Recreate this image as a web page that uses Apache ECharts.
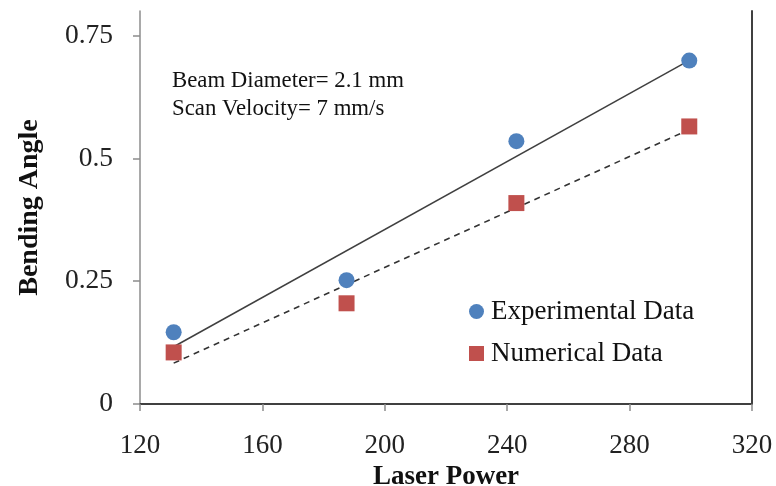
<!DOCTYPE html>
<html>
<head>
<meta charset="utf-8">
<script src="https://cdn.jsdelivr.net/npm/echarts@6/dist/echarts.min.js"></script>
<style>
html,body{margin:0;padding:0;background:#fff;}
#chart{width:776px;height:486px;}
</style>
</head>
<body>
<div id="chart"></div>
<script>
// Data
var laserPower = [131, 187.5, 243, 299.5];
var experimental = [0.146, 0.252, 0.535, 0.699];
var numerical = [0.105, 0.205, 0.409, 0.565];
var yTicks = [0, 0.25, 0.5, 0.75];
var xTicks = [120, 160, 200, 240, 280, 320];
var seriesNames = ['Experimental Data', 'Numerical Data'];
var annotationLines = ['Beam Diameter= 2.1 mm', 'Scan Velocity= 7 mm/s'];

function pairs(xs, ys) { return xs.map(function (x, i) { return [x, ys[i]]; }); }
function linearFit(xs, ys) {
  var n = xs.length, mx = 0, my = 0;
  for (var i = 0; i < n; i++) { mx += xs[i]; my += ys[i]; }
  mx /= n; my /= n;
  var sxy = 0, sxx = 0;
  for (i = 0; i < n; i++) { sxy += (xs[i] - mx) * (ys[i] - my); sxx += (xs[i] - mx) * (xs[i] - mx); }
  var b = sxy / sxx, a = my - b * mx;
  var x0 = Math.min.apply(null, xs), x1 = Math.max.apply(null, xs);
  return [[x0, a + b * x0], [x1, a + b * x1]];
}

var serif = '"Liberation Serif", "Times New Roman", serif';
var chart = echarts.init(document.getElementById('chart'));
chart.setOption({
  animation: false,
  backgroundColor: '#fff',
  grid: { left: 140, right: 24, top: 11, bottom: 82, containLabel: false, outerBoundsMode: 'none' },
  xAxis: [{
    type: 'value', min: 120, max: 320, interval: 40,
    name: 'Laser Power', nameLocation: 'middle', nameGap: 57,
    nameTextStyle: { fontFamily: serif, fontSize: 27, fontWeight: 'bold', color: '#111' },
    axisLine: { show: true, lineStyle: { color: '#8c8c8c', width: 1.5 } },
    axisTick: { show: true, inside: false, length: 7, lineStyle: { color: '#8c8c8c', width: 1.5 }, customValues: xTicks },
    axisLabel: { fontFamily: serif, fontSize: 27, color: '#222', margin: 28, customValues: xTicks },
    splitLine: { show: false }
  }, {
    type: 'value', position: 'top', min: 120, max: 320,
    axisLine: { show: true, lineStyle: { color: '#404040', width: 2 } },
    axisTick: { show: false }, axisLabel: { show: false }, splitLine: { show: false }
  }],
  yAxis: [{
    type: 'value', min: 0, max: 0.8, interval: 0.25,
    name: 'Bending Angle', nameLocation: 'middle', nameGap: 96, nameRotate: 90,
    nameTextStyle: { fontFamily: serif, fontSize: 28, fontWeight: 'bold', color: '#111' },
    axisLine: { show: true, lineStyle: { color: '#8c8c8c', width: 1.5 } },
    axisTick: { show: true, inside: false, length: 7, lineStyle: { color: '#8c8c8c', width: 1.5 }, customValues: yTicks },
    axisLabel: { fontFamily: serif, fontSize: 27.5, color: '#222', margin: 27, customValues: yTicks },
    splitLine: { show: false }
  }, {
    type: 'value', position: 'right', min: 0, max: 0.8,
    axisLine: { show: true, lineStyle: { color: '#404040', width: 2 } },
    axisTick: { show: false }, axisLabel: { show: false }, splitLine: { show: false }
  }],
  legend: {
    data: seriesNames,
    orient: 'vertical', left: 469, top: 298, padding: 0,
    itemWidth: 15, itemHeight: 15, itemGap: 15,
    textStyle: { fontFamily: serif, fontSize: 27, color: '#111', padding: [0, 0, 0, 2] }
  },
  graphic: [{
    type: 'text', left: 172, top: 67,
    style: { text: annotationLines.join('\n'), font: '22.8px ' + serif, fill: '#111', lineHeight: 28 }
  }],
  series: [{
    type: 'line', data: linearFit(laserPower, experimental), showSymbol: false, symbol: 'none',
    lineStyle: { color: '#404040', width: 1.5, type: 'solid' }, z: 2, silent: true
  }, {
    type: 'line', data: linearFit(laserPower, numerical), showSymbol: false, symbol: 'none',
    lineStyle: { color: '#333', width: 1.6, type: [6, 5] }, z: 2, silent: true
  }, {
    name: seriesNames[0], type: 'scatter', data: pairs(laserPower, experimental),
    symbol: 'circle', symbolSize: 16, itemStyle: { color: '#4F81BD', opacity: 1 }, z: 3
  }, {
    name: seriesNames[1], type: 'scatter', data: pairs(laserPower, numerical),
    symbol: 'rect', symbolSize: 16, itemStyle: { color: '#C0504D', opacity: 1 }, z: 3
  }]
});
</script>
</body>
</html>
